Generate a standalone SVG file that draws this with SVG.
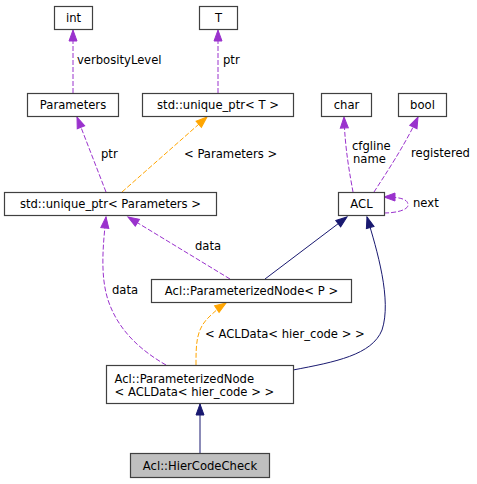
<svg xmlns="http://www.w3.org/2000/svg" width="477" height="484" viewBox="0 0 477 484">
<style>
text{font-family:"DejaVu Sans","Liberation Sans",sans-serif;font-size:11.6px;fill:#000}
.n rect{fill:#fff;stroke:#404040;stroke-width:1.2}
.n text{text-anchor:middle}
.e{fill:none;stroke-width:1}
.p{stroke:#9a32cd;stroke-dasharray:5,2}
.o{stroke:#ffa500;stroke-dasharray:5,2}
.b{stroke:#191970}
</style>
<defs>
<marker id="ap" markerUnits="userSpaceOnUse" markerWidth="14" markerHeight="12" viewBox="-1 -6 14 12" refX="11" refY="0" orient="auto" overflow="visible"><path d="M0,-4 L11,0 L0,4 Z" fill="#9a32cd" stroke="#9a32cd"/></marker>
<marker id="ao" markerUnits="userSpaceOnUse" markerWidth="14" markerHeight="12" viewBox="-1 -6 14 12" refX="11" refY="0" orient="auto" overflow="visible"><path d="M0,-4 L11,0 L0,4 Z" fill="#ffa500" stroke="#ffa500"/></marker>
<marker id="ab" markerUnits="userSpaceOnUse" markerWidth="14" markerHeight="12" viewBox="-1 -6 14 12" refX="11" refY="0" orient="auto" overflow="visible"><path d="M0,-4 L11,0 L0,4 Z" fill="#191970" stroke="#191970"/></marker>
</defs>
<rect x="0" y="0" width="477" height="484" fill="#fff"/>
<g id="connectors">
<path class="e p" d="M73,93 L73,30" marker-end="url(#ap)"/>
<text x="77" y="64">verbosityLevel</text>
<path class="e p" d="M218,93 L218,30" marker-end="url(#ap)"/>
<text x="223" y="64">ptr</text>
<path class="e p" d="M106,192 L77,117" marker-end="url(#ap)"/>
<text x="101" y="158">ptr</text>
<path class="e o" d="M122,192 L207,117" marker-end="url(#ao)"/>
<text x="184" y="158">&lt; Parameters &gt;</text>
<path class="e p" d="M353,192 C350,175 345,150 344,117" marker-end="url(#ap)"/>
<text x="352" y="150">cfgline</text>
<text x="353" y="163">name</text>
<path class="e p" d="M374,192 C385,175 405,145 418,117" marker-end="url(#ap)"/>
<text x="411" y="157">registered</text>
<path class="e p" d="M384,213 C396,213 408,210 408,205 C408,199 400,197 384,197" marker-end="url(#ap)"/>
<text x="413" y="207">next</text>
<path class="e b" d="M265,279 L347,217" marker-end="url(#ab)"/>
<path class="e b" d="M293,370 C335,362 372,355 382,330 C392,300 377,250 367,217" marker-end="url(#ab)"/>
<path class="e p" d="M230,279 L128,217" marker-end="url(#ap)"/>
<text x="195" y="250">data</text>
<path class="e p" d="M166,365 C140,350 118,330 108,300 C100,275 103,245 106,217" marker-end="url(#ap)"/>
<text x="112" y="294">data</text>
<path class="e o" d="M196,365 C196,345 196,330 208,318 C214,312 220,307 226,303" marker-end="url(#ao)"/>
<text x="205" y="338">&lt; ACLData&lt; hier_code &gt; &gt;</text>
<path class="e b" d="M200,453 L200,404" marker-end="url(#ab)"/>
</g>
<g id="int" class="n"><rect x="54.5" y="6.5" width="38" height="23"/><text x="73.5" y="22">int</text></g>
<g id="T" class="n"><rect x="199.5" y="6.5" width="38" height="23"/><text x="218.5" y="22">T</text></g>
<g id="Parameters" class="n"><rect x="27.5" y="93.5" width="91" height="23"/><text x="73" y="109">Parameters</text></g>
<g id="unique_ptr_T" class="n"><rect x="142.5" y="93.5" width="151" height="23"/><text x="218" y="109">std::unique_ptr&lt; T &gt;</text></g>
<g id="char" class="n"><rect x="321.5" y="93.5" width="50" height="23"/><text x="346.5" y="109">char</text></g>
<g id="bool" class="n"><rect x="398.5" y="93.5" width="48" height="23"/><text x="422.5" y="109">bool</text></g>
<g id="unique_ptr_Parameters" class="n"><rect x="4.5" y="192.5" width="212" height="23"/><text x="110.5" y="208">std::unique_ptr&lt; Parameters &gt;</text></g>
<g id="ACL" class="n"><rect x="338.5" y="192.5" width="46" height="23"/><text x="361.5" y="208">ACL</text></g>
<g id="ParameterizedNode_P" class="n"><rect x="151.5" y="279.5" width="200" height="23"/><text x="251.5" y="295">Acl::ParameterizedNode&lt; P &gt;</text></g>
<g id="ParameterizedNode_ACLData" class="n"><rect x="106.5" y="365.5" width="187" height="38"/><text x="114.5" y="383" style="text-anchor:start">Acl::ParameterizedNode</text><text x="114.5" y="396" style="text-anchor:start">&lt; ACLData&lt; hier_code &gt; &gt;</text></g>
<g id="HierCodeCheck" class="n"><rect x="130.5" y="453.5" width="139" height="24" style="fill:#bfbfbf"/><text x="200" y="469.5">Acl::HierCodeCheck</text></g>
</svg>
